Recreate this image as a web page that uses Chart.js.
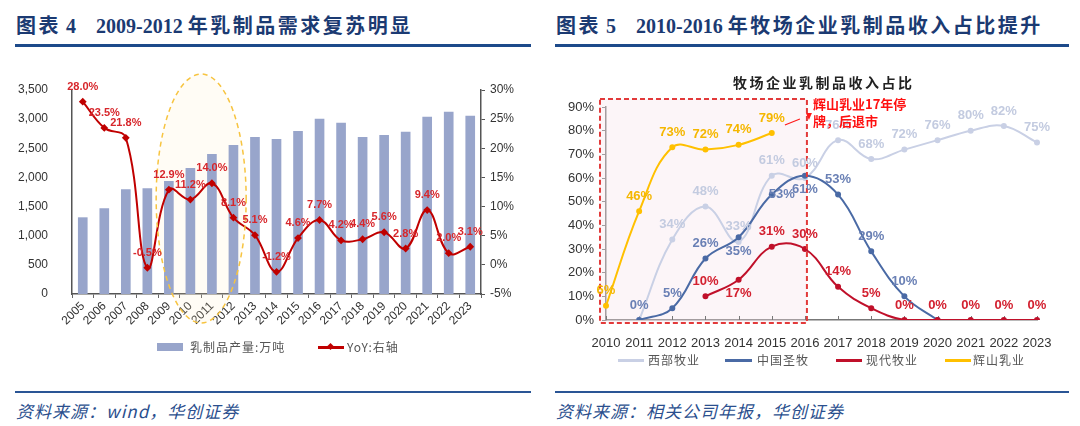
<!DOCTYPE html>
<html>
<head>
<meta charset="utf-8">
<script src="https://cdn.jsdelivr.net/npm/chart.js@4.4.1/dist/chart.umd.min.js"></script>
<style>
  body { margin: 0; width: 1080px; height: 426px; background: #fff; position: relative; overflow: hidden; font-family: 'Liberation Sans', Arial, sans-serif; }
  .abs { position: absolute; }
  .title { font-family: 'Liberation Serif', 'Noto Sans CJK SC', serif; font-weight: bold; font-size: 20px; line-height: 24px; color: #1b3a72; white-space: pre; top: 14px; }
  .title .cj { letter-spacing: 2.5px; }
  .rule { height: 3px; background: #1d4a8a; }
  .rule2 { height: 2px; background: #2a5595; }
  .src { font-family: 'Noto Sans CJK SC', sans-serif; font-style: italic; font-size: 17px; line-height: 20px; color: #2b4f8e; top: 401px; white-space: pre; letter-spacing: 1px; }
  .legtxt { font-family: 'Noto Sans CJK SC', sans-serif; font-size: 12px; line-height: 16px; color: #555; letter-spacing: 1px; white-space: pre; }
  .sw { height: 3px; }
  .inner { font-family: 'Noto Sans CJK SC', sans-serif; font-weight: bold; font-size: 14px; line-height: 18px; color: #222; letter-spacing: 2.5px; white-space: pre; }
  .note { font-family: 'Noto Sans CJK SC', sans-serif; font-weight: bold; font-size: 13px; line-height: 17px; color: #ff1010; white-space: pre; }
</style>
</head>
<body>
<div class="abs title" style="left:16px"><span class="cj">图表</span> 4    2009-2012 <span class="cj">年乳制品需求复苏明显</span></div>
<div class="abs rule" style="left:15px;top:44px;width:516px"></div>
<div class="abs title" style="left:556px"><span class="cj">图表</span> 5    2010-2016 <span class="cj">年牧场企业乳制品收入占比提升</span></div>
<div class="abs rule" style="left:555px;top:44px;width:514px"></div>

<div class="abs" style="left:0;top:60px;width:540px;height:280px"><canvas id="c1"></canvas></div>
<div class="abs" style="left:540px;top:90px;width:540px;height:260px"><canvas id="c2"></canvas></div>

<!-- left legend -->
<div class="abs" style="left:157px;top:343px;width:26px;height:8px;background:#98a5cb"></div>
<div class="abs legtxt" style="left:190px;top:339px">乳制品产量:万吨</div>
<div class="abs sw" style="left:318px;top:346px;width:26px;background:#c00000"></div>
<div class="abs" style="left:328px;top:344px;width:5px;height:5px;background:#c00000;transform:rotate(45deg)"></div>
<div class="abs legtxt" style="left:347px;top:339px">YoY:右轴</div>

<!-- right chart texts -->
<div class="abs inner" style="left:733px;top:73px">牧场企业乳制品收入占比</div>
<div class="abs note" style="left:813px;top:95px">辉山乳业17年停</div>
<div class="abs note" style="left:813px;top:112px">牌，后退市</div>

<!-- right legend -->
<div class="abs sw" style="left:618px;top:359px;width:26px;background:#c9d0e5"></div>
<div class="abs legtxt" style="left:648px;top:352px">西部牧业</div>
<div class="abs sw" style="left:725px;top:359px;width:27px;background:#4a6aa5"></div>
<div class="abs legtxt" style="left:757px;top:352px">中国圣牧</div>
<div class="abs sw" style="left:836px;top:359px;width:26px;background:#c0102a"></div>
<div class="abs legtxt" style="left:866px;top:352px">现代牧业</div>
<div class="abs sw" style="left:945px;top:359px;width:26px;background:#ffc000"></div>
<div class="abs legtxt" style="left:973px;top:352px">辉山乳业</div>

<div class="abs rule2" style="left:15px;top:391px;width:516px"></div>
<div class="abs src" style="left:16px">资料来源：wind，华创证券</div>
<div class="abs rule2" style="left:555px;top:391px;width:514px"></div>
<div class="abs src" style="left:556px">资料来源：相关公司年报，华创证券</div>

<script>
// ---- 图表4 数据 ----
const years1 = ['2005','2006','2007','2008','2009','2010','2011','2012','2013','2014','2015','2016','2017','2018','2019','2020','2021','2022','2023'];
const dairyOutput = [1310, 1466, 1793, 1810, 1931, 2155, 2397, 2552, 2690, 2655, 2793, 3000, 2931, 2690, 2724, 2776, 3034, 3121, 3052];
const dairyYoY = [28.0, 23.5, 21.8, -0.5, 12.9, 11.2, 14.0, 8.1, 5.1, -1.2, 4.6, 7.7, 4.2, 4.4, 5.6, 2.8, 9.4, 2.0, 3.1];
const outputTicks = [0, 500, 1000, 1500, 2000, 2500, 3000, 3500];
const yoyTicks = [-5, 0, 5, 10, 15, 20, 25, 30];

// ---- 图表5 数据 ----
const years2 = ['2010','2011','2012','2013','2014','2015','2016','2017','2018','2019','2020','2021','2022','2023'];
const xibu = [null, 0, 34, 48, 33, 61, 60, 76, 68, 72, 76, 80, 82, 75];
const shengmu = [null, 0, 5, 26, 35, 53, 61, 53, 29, 10, 0, null, null, null];
const xiandai = [null, null, null, 10, 17, 31, 30, 14, 5, 0, 0, 0, 0, 0];
const huishan = [6, 46, 73, 72, 74, 79, null, null, null, null, null, null, null, null];
const pctTicks = [0, 10, 20, 30, 40, 50, 60, 70, 80, 90];
// label side: t = above, b = below, r = right, null = none
const xibuLabelPos = [null, null, 't', 't', 't', 't', 't', 't', 't', 't', 't', 't', 't', 't'];
const shengmuLabelPos = [null, 't', 't', 't', 'b', 'r', 'b', 't', 't', 't', null, null, null, null];
const xiandaiLabelPos = [null, null, null, 't', 'b', 't', 't', 't', 't', 't', 't', 't', 't', 't'];

const pointLabels = {
  id: 'pointLabels',
  afterDatasetsDraw(chart) {
    const ctx = chart.ctx;
    chart.data.datasets.forEach((ds, i) => {
      if (!ds.labelFmt) return;
      const meta = chart.getDatasetMeta(i);
      meta.data.forEach((pt, j) => {
        const v = ds.data[j];
        if (v == null) return;
        const pos = ds.labelPos ? ds.labelPos[j] : 't';
        if (!pos) return;
        let x = pt.x, y = pt.y;
        if (pos === 't') y -= 15;
        else if (pos === 'b') y += 14;
        else if (pos === 'r') x += 10;
        ctx.save();
        ctx.font = ds.labelFont;
        ctx.fillStyle = ds.labelColor;
        ctx.textAlign = 'center';
        ctx.textBaseline = 'middle';
        ctx.fillText(ds.labelFmt(v), x, y);
        ctx.restore();
      });
    });
  }
};

// dashed ellipse round 2009-2012
function ellipsePath(chart) {
  const x = chart.scales.x;
  const a = chart.chartArea;
  const cx = (x.getPixelForValue(5) + x.getPixelForValue(6)) / 2;
  const top = a.top - 16, bottom = a.bottom + 29;
  const ctx = chart.ctx;
  ctx.beginPath();
  ctx.ellipse(cx, (top + bottom) / 2, 45, (bottom - top) / 2, 0, 0, Math.PI * 2);
}
const ellipsePlugin = {
  id: 'ellipse',
  beforeDatasetsDraw(chart) {
    const ctx = chart.ctx;
    ctx.save();
    ellipsePath(chart);
    ctx.fillStyle = 'rgba(255,236,190,0.15)';
    ctx.fill();
    ctx.restore();
  },
  afterDatasetsDraw(chart) {
    const ctx = chart.ctx;
    ctx.save();
    ellipsePath(chart);
    ctx.setLineDash([5, 4]);
    ctx.lineWidth = 1.5;
    ctx.strokeStyle = '#f7c440';
    ctx.stroke();
    ctx.restore();
  }
};

function boxRect(chart) {
  const x = chart.scales.x, y = chart.scales.y, a = chart.chartArea;
  return { l: a.left - 6, r: x.getPixelForValue(6) + 2, t: y.getPixelForValue(90) - 8, b: a.bottom + 3 };
}
const boxPlugin = {
  id: 'box',
  beforeDatasetsDraw(chart) {
    const b = boxRect(chart), ctx = chart.ctx;
    ctx.save();
    ctx.fillStyle = 'rgba(245,225,235,0.35)';
    ctx.fillRect(b.l, b.t, b.r - b.l, b.b - b.t);
    // small category ticks pointing up from the x axis
    const x = chart.scales.x, a = chart.chartArea;
    ctx.strokeStyle = '#777';
    ctx.lineWidth = 1;
    for (let i = 0; i < years2.length; i++) {
      const px = Math.round(x.getPixelForValue(i)) + 0.5;
      ctx.beginPath(); ctx.moveTo(px, a.bottom); ctx.lineTo(px, a.bottom - 4); ctx.stroke();
    }
    ctx.restore();
  },
  afterDatasetsDraw(chart) {
    const b = boxRect(chart), ctx = chart.ctx;
    ctx.save();
    ctx.setLineDash([5, 3]);
    ctx.lineWidth = 2;
    ctx.strokeStyle = '#e23a3a';
    ctx.strokeRect(b.l, b.t, b.r - b.l, b.b - b.t);
    ctx.setLineDash([]);
    // arrow toward the box edge
    const x0 = b.r - 22, y0 = b.t + 26, x1 = b.r - 2, y1 = b.t + 18;
    ctx.strokeStyle = '#ff1a1a';
    ctx.lineWidth = 1.2;
    ctx.beginPath(); ctx.moveTo(x0, y0); ctx.lineTo(x1 - 5, y1 + 2); ctx.stroke();
    ctx.fillStyle = '#ff1a1a';
    ctx.beginPath(); ctx.moveTo(x1 + 1, y1 - 4); ctx.lineTo(x1 + 7, y1 - 4); ctx.lineTo(x1 + 4, y1 + 3); ctx.closePath(); ctx.fill();
    ctx.restore();
  }
};

const tickFont = { family: "'Liberation Sans', Arial, sans-serif", size: 12 };

new Chart(document.getElementById('c1'), {
  data: {
    labels: years1,
    datasets: [
      {
        type: 'line',
        label: 'YoY:右轴',
        data: dairyYoY,
        yAxisID: 'y1',
        borderColor: '#c00000',
        backgroundColor: '#c00000',
        borderWidth: 2,
        tension: 0.4,
        pointStyle: 'rectRot',
        pointRadius: 2.5,
        order: 0,
        labelFmt: (v) => v.toFixed(1) + '%',
        labelFont: "bold 11px 'Liberation Sans', Arial, sans-serif",
        labelColor: '#d7262b',
      },
      {
        type: 'bar',
        label: '乳制品产量:万吨',
        data: dairyOutput,
        yAxisID: 'y',
        backgroundColor: '#98a5cb',
        barThickness: 9,
        order: 1,
      },
    ],
  },
  options: {
    responsive: true,
    maintainAspectRatio: false,
    animation: false,
    layout: { padding: { top: 30, left: 0, right: 0, bottom: 0 } },
    plugins: { legend: { display: false }, tooltip: { enabled: false } },
    scales: {
      x: {
        grid: { display: true, drawOnChartArea: false, offset: true, tickLength: 4, color: '#666' },
        border: { color: '#555', width: 1.5 },
        ticks: { font: tickFont, color: '#333', minRotation: 45, maxRotation: 45, autoSkip: false, padding: 1 },
        afterFit: (s) => { s.height = 46; },
      },
      y: {
        position: 'left',
        min: 0, max: 3500,
        grid: { display: false },
        border: { color: '#555', width: 1.5 },
        ticks: { font: tickFont, color: '#333', padding: 16, callback: (v) => v.toLocaleString('en-US') },
        afterBuildTicks: (s) => { s.ticks = outputTicks.map((v) => ({ value: v })); },
        afterFit: (s) => { s.width = 72; },
      },
      y1: {
        position: 'right',
        min: -5, max: 30,
        grid: { display: true, drawOnChartArea: false, tickLength: 4, color: '#555' },
        border: { color: '#555', width: 1.5 },
        ticks: { font: tickFont, color: '#333', padding: 5, callback: (v) => v + '%' },
        afterBuildTicks: (s) => { s.ticks = yoyTicks.map((v) => ({ value: v })); },
        afterFit: (s) => { s.width = 59; },
      },
    },
  },
  plugins: [ellipsePlugin, pointLabels],
});

const labelFont2 = "bold 13px 'Liberation Sans', Arial, sans-serif";
function lineSet(label, data, color, labelColor, labelPos) {
  return {
    label, data, labelPos, labelColor,
    borderColor: color,
    backgroundColor: color,
    borderWidth: 2,
    tension: 0.4,
    pointRadius: 2,
    labelFmt: (v) => v + '%',
    labelFont: labelFont2,
  };
}

new Chart(document.getElementById('c2'), {
  type: 'line',
  data: {
    labels: years2,
    datasets: [
      lineSet('辉山乳业', huishan, '#ffc000', '#f5b700', null),
      lineSet('现代牧业', xiandai, '#c0102a', '#d3202f', xiandaiLabelPos),
      lineSet('中国圣牧', shengmu, '#4a6aa5', '#6a80b5', shengmuLabelPos),
      lineSet('西部牧业', xibu, '#c9d0e5', '#c3cbe0', xibuLabelPos),
    ],
  },
  options: {
    responsive: true,
    maintainAspectRatio: false,
    animation: false,
    layout: { padding: { top: 17, left: 0, right: 43, bottom: 0 } },
    plugins: { legend: { display: false }, tooltip: { enabled: false } },
    scales: {
      x: {
        offset: false,
        grid: { display: false },
        border: { color: '#777', width: 1.5 },
        ticks: { font: { family: tickFont.family, size: 13 }, color: '#333', maxRotation: 0, autoSkip: false, padding: 8 },
        afterFit: (s) => { s.height = 30; },
      },
      y: {
        min: 0, max: 90,
        grid: { display: true, drawOnChartArea: false, tickLength: 4, color: '#777' },
        border: { color: '#777', width: 1.5 },
        ticks: { font: { family: tickFont.family, size: 13 }, color: '#333', padding: 8, callback: (v) => v + '%' },
        afterBuildTicks: (s) => { s.ticks = pctTicks.map((v) => ({ value: v })); },
        afterFit: (s) => { s.width = 66; },
      },
    },
  },
  plugins: [boxPlugin, pointLabels],
});
</script>
</body>
</html>
